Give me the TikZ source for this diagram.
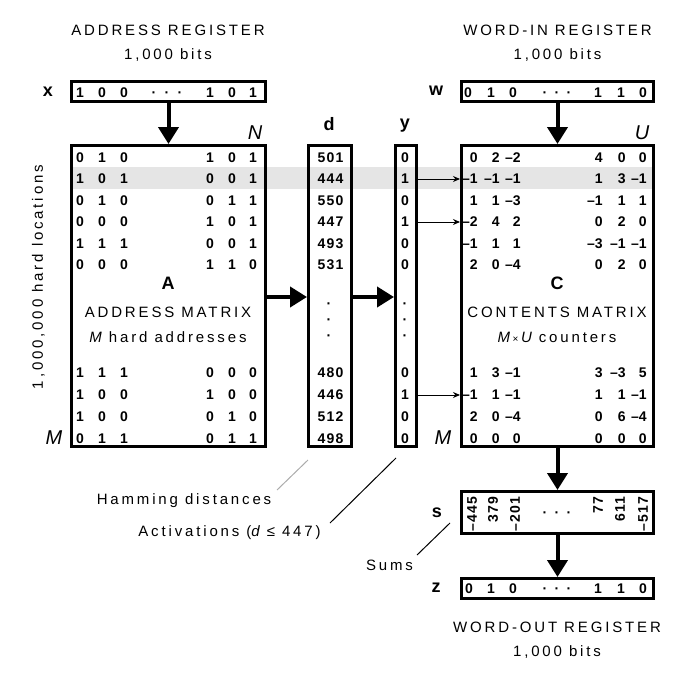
\documentclass[tikz,border=0pt]{standalone}
\usepackage{fontspec}
\setmainfont{Liberation Sans}
\newfontfamily\spcfont{Liberation Sans}[LetterSpace=19]
\newfontfamily\numfont{Liberation Sans}[LetterSpace=9]
\usetikzlibrary{arrows.meta}
\tikzset{
  box/.style={draw, line width=3pt, inner sep=0pt},
  ttl/.style={font=\spcfont\fontsize{15}{17}\selectfont, inner sep=0pt},
  num/.style={font=\bfseries\fontsize{14}{16}\selectfont, inner sep=0pt},
  dnum/.style={font=\numfont\bfseries\fontsize{14}{16}\selectfont, inner sep=0pt},
  lbl/.style={font=\bfseries\fontsize{18}{20}\selectfont, inner sep=0pt},
  ilbl/.style={font=\itshape\fontsize{20}{22}\selectfont, inner sep=0pt},
  bigarrow/.style={line width=4pt, -{Triangle[length=17pt,width=20pt]}},
  selarrow/.style={line width=1pt, -{Stealth[length=7pt,width=6pt]}},
  annot/.style={line width=1pt},
}
\newcommand\arow[8]{\foreach \xx/\v [count=\i] in {80/#3,102/#4,124/#5,210/#6,232/#7,253/#8}
  \node[num] (a#1-\i) at (\xx,#2) {\v};}
\newcommand\crow[8]{\foreach \xx/\v [count=\i] in {474/#3,496/#4,517/#5,599/#6,622/#7,643/#8}
  \node[num,anchor=east] (c#1-\i) at (\xx+3.9,#2) {\v};}
\begin{document}
\begin{tikzpicture}[x=1pt,y=-1pt]
\useasboundingbox (0,0) rectangle (699,685);
% highlighted row
\fill[gray!20] (70,167) rectangle (653,189);

% titles
\node[ttl] (areg) at (168,30) {ADDRESS REGISTER};
\node[ttl] (abits) at (168,55) {1,000 bits};
\node[ttl] (wregt) at (557.5,30) {WORD-IN REGISTER};
\node[ttl] (wbits) at (557.5,55) {1,000 bits};
\node[ttl] (zregt) at (557,627) {WORD-OUT REGISTER};
\node[ttl] (zbits) at (557,652) {1,000 bits};
\node[ttl, rotate=90] (hl) at (38.5,277) {1,000,000 hard locations};

% boxes
\node[box, minimum width=194pt, minimum height=20pt] (xreg) at (168.5,91.5) {};
\node[box, minimum width=194pt, minimum height=301pt] (A) at (168.5,296) {};
\node[box, minimum width=43pt, minimum height=301pt] (d) at (330,296) {};
\node[box, minimum width=21pt, minimum height=301pt] (y) at (406,296) {};
\node[box, minimum width=192pt, minimum height=301pt] (C) at (557.5,296) {};
\node[box, minimum width=192pt, minimum height=20pt] (wreg) at (557.5,91.5) {};
\node[box, minimum width=192pt, minimum height=42pt] (s) at (557.5,512.5) {};
\node[box, minimum width=192pt, minimum height=20pt] (zreg) at (557.5,588.5) {};

% register labels
\node[lbl] (xl) at (48,92) {x};
\node[lbl] (wl) at (436,91) {w};
\node[lbl] (dl) at (329,124) {d};
\node[lbl] (yl) at (405,125.5) {y};
\node[lbl] (sl) at (437,512.5) {s};
\node[lbl] (zl) at (436,588) {z};
\node[ilbl] (Nl) at (255,132.5) {N};
\node[ilbl] (Ul) at (642,133) {U};
\node[ilbl] (Ml) at (54,437.5) {M};
\node[ilbl] (Ml2) at (443,437.5) {M};

% register contents
\foreach \xx/\v [count=\i] in {80/1,102/0,124/0,210/1,232/0,253/1}
  \node[num, anchor=base] (x\i) at (\xx,97) {\v};
\foreach \xx [count=\i] in {154,167,180}
  \node[num, anchor=base] (xd\i) at (\xx,97) {·};
\foreach \xx/\v [count=\i] in {468/0,491/1,513/0,598/1,621/1,643/0}
  \node[num, anchor=base] (w\i) at (\xx,97) {\v};
\foreach \xx [count=\i] in {545,557,569}
  \node[num, anchor=base] (wd\i) at (\xx,97) {·};
\foreach \xx/\v [count=\i] in {469/0,491/1,513/0,598/1,621/1,643/0}
  \node[num, anchor=base] (z\i) at (\xx,593.5) {\v};
\foreach \xx [count=\i] in {545,557,569}
  \node[num, anchor=base] (zd\i) at (\xx,593.5) {·};

% sums
\foreach \xx/\v [count=\i] in {472/–445,493/379,515/–201,598/77,620/611,643/–517}
  \node[dnum, rotate=90, anchor=east] (s\i) at (\xx,496.5) {\v};
\foreach \xx [count=\i] in {545,557,569}
  \node[num, anchor=base] (sd\i) at (\xx,517) {·};

% address matrix
\arow{1}{157.5}{0}{1}{0}{1}{0}{1}
\arow{2}{179}{1}{0}{1}{0}{0}{1}
\arow{3}{200.5}{0}{1}{0}{0}{1}{1}
\arow{4}{222}{0}{0}{0}{1}{0}{1}
\arow{5}{243.5}{1}{1}{1}{0}{0}{1}
\arow{6}{265}{0}{0}{0}{1}{1}{0}
\arow{7}{373}{1}{1}{1}{0}{0}{0}
\arow{8}{395}{1}{0}{0}{1}{0}{0}
\arow{9}{417}{1}{0}{0}{0}{1}{0}
\arow{10}{438.5}{0}{1}{1}{0}{1}{1}
\node[lbl] (Al) at (168,283.5) {A};
\node[ttl] (amt) at (168,312) {ADDRESS MATRIX};
\node[ttl] (amh) at (168,337.5) {{\itshape M} hard addresses};

% contents matrix
\crow{1}{157.5}{0}{2}{–2}{4}{0}{0}
\crow{2}{179}{–1}{–1}{–1}{1}{3}{–1}
\crow{3}{200.5}{1}{1}{–3}{–1}{1}{1}
\crow{4}{222}{–2}{4}{2}{0}{2}{0}
\crow{5}{243.5}{–1}{1}{1}{–3}{–1}{–1}
\crow{6}{265}{2}{0}{–4}{0}{2}{0}
\crow{7}{373}{1}{3}{–1}{3}{–3}{5}
\crow{8}{395}{–1}{1}{–1}{1}{1}{–1}
\crow{9}{417}{2}{0}{–4}{0}{6}{–4}
\crow{10}{438.5}{0}{0}{0}{0}{0}{0}
\node[lbl] (Cl) at (557,283.5) {C};
\node[ttl] (cmt) at (557,312) {CONTENTS MATRIX};
\node[ttl] (cmh) at (557,337.5) {{\itshape M}\,{\fontsize{10}{10}\selectfont ×}\,{\itshape U} counters};

% d and y columns
\foreach \yy/\v [count=\i] in {157.5/501,179/444,200.5/550,222/447,243.5/493,265/531,373/480,395/446,417/512,438.5/498}
  \node[dnum] (dv\i) at (330.5,\yy) {\v};
\foreach \yy/\v [count=\i] in {157.5/0,179/1,200.5/0,222/1,243.5/0,265/0,373/0,395/1,417/0,438.5/0}
  \node[num] (yv\i) at (405,\yy) {\v};
\foreach \yy [count=\i] in {303,319,335} {
  \node[num, anchor=base] (dd\i) at (329,\yy+5) {·};
  \node[num, anchor=base] (yd\i) at (405,\yy+5) {·};
}

% big arrows
\coordinate (mid) at (0,297);
\draw[bigarrow] (xreg.south) -- (A.north);
\draw[bigarrow] (A.east |- mid) -- (d.west |- mid);
\draw[bigarrow] (d.east |- mid) -- (y.west |- mid);
\draw[bigarrow] (wreg.south) -- (C.north);
\draw[bigarrow] (C.south) -- (s.north);
\draw[bigarrow] (s.south) -- (zreg.north);

% selection arrows
\foreach \k in {2,4,8}
  \draw[selarrow] (y.east |- yv\k) -- (C.west |- yv\k);

% annotations
\node[ttl] (ham) at (184,501) {Hamming distances};
\node[ttl] (act) at (229.5,533) {Activations ({\itshape d} ≤ 447)};
\node[ttl] (sums) at (389.5,565) {Sums};
\coordinate (h1) at (308,460);
\coordinate (h2) at (277,490);
\coordinate (a1) at (396,458);
\coordinate (a2) at (330,523);
\coordinate (s1) at (450,523);
\coordinate (s2) at (417,555);
\draw[annot, gray!65] (h1) -- (h2);
\draw[annot] (a1) -- (a2);
\draw[annot] (s1) -- (s2);
\end{tikzpicture}
\end{document}
